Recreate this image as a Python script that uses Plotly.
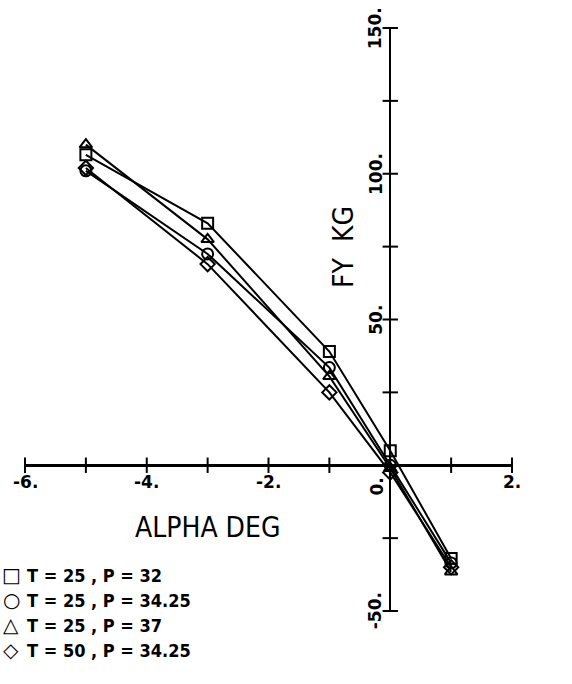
import plotly.graph_objects as go

# ---- data ----
alpha_deg = [-5, -3, -1, 0, 1]
fy_t25_p32 = [106.5, 83, 39, 5, -32]
fy_t25_p3425 = [101, 72.5, 33.5, 0, -33.5]
fy_t25_p37 = [110, 77.5, 30.5, -1, -36.5]
fy_t50_p3425 = [102, 69, 25, -2.5, -35]

series_labels = ["T = 25 , P = 32", "T = 25 , P = 34.25", "T = 25 , P = 37", "T = 50 , P = 34.25"]
series_values = [fy_t25_p32, fy_t25_p3425, fy_t25_p37, fy_t50_p3425]
series_symbols = ["square-open", "circle-open", "triangle-up-open", "diamond-open"]
legend_glyphs = ["□", "○", "△", "◇"]

x_ticks = [-6, -5, -4, -3, -2, -1, 0, 1, 2]
x_tick_labels = {-6: "-6.", -4: "-4.", -2: "-2.", 2: "2."}
y_ticks = [-50, -25, 0, 25, 50, 75, 100, 125, 150]
y_tick_labels = {150: "150.", 100: "100.", 50: "50.", -50: "-50."}

TXT = "DejaVu Sans Condensed, Liberation Sans Narrow, DejaVu Sans"
W, H = 572, 684
L, T, R, B = 25, 28, 60, 73
PW, PH = W - L - R, H - T - B

fig = go.Figure()

for vals, sym, lab in zip(series_values, series_symbols, series_labels):
    fig.add_trace(go.Scatter(
        x=alpha_deg, y=vals, mode="lines+markers", name=lab,
        line=dict(color="black", width=2),
        marker=dict(symbol=sym, size=11, color="black", line=dict(width=2, color="black")),
        showlegend=False, cliponaxis=False,
    ))

# tick marks on the crossing axes
fig.add_trace(go.Scatter(
    x=x_ticks, y=[0] * len(x_ticks), mode="markers", showlegend=False, cliponaxis=False,
    marker=dict(symbol="line-ns", size=11, line=dict(width=2, color="black")),
))
fig.add_trace(go.Scatter(
    x=[0] * len(y_ticks), y=y_ticks, mode="markers", showlegend=False, cliponaxis=False,
    marker=dict(symbol="line-ew", size=11, line=dict(width=2, color="black")),
))

ann = []
for xv, lab in x_tick_labels.items():
    ann.append(dict(x=xv, y=0, xref="x", yref="y", text=lab, showarrow=False,
                    xanchor="center", yanchor="top", yshift=-5,
                    font=dict(family="DejaVu Sans", size=17, color="black", weight="bold")))
ann.append(dict(x=0, y=0, xref="x", yref="y", text="0.", showarrow=False, textangle=-90,
                xanchor="center", yanchor="middle", xshift=-13, yshift=-21,
                font=dict(family="DejaVu Sans", size=17, color="black", weight="bold")))
for yv, lab in y_tick_labels.items():
    ann.append(dict(x=0, y=yv, xref="x", yref="y", text=lab, showarrow=False, textangle=-90,
                    xanchor="center", yanchor="middle", xshift=-15,
                    font=dict(family="DejaVu Sans", size=17, color="black", weight="bold")))
ann.append(dict(x=-3, y=0, xref="x", yref="y", text="ALPHA DEG", showarrow=False,
                xanchor="center", yanchor="middle", yshift=-62,
                font=dict(family=TXT, size=28, color="black")))
ann.append(dict(x=0, y=75, xref="x", yref="y", text="FY  KG", showarrow=False, textangle=-90,
                xanchor="center", yanchor="middle", xshift=-47,
                font=dict(family=TXT, size=28, color="black")))

# legend drawn as text rows (symbol + label) in the lower-left corner
row_px = [575, 600, 625, 650]
for glyph, lab, py in zip(legend_glyphs, series_labels, row_px):
    yp = (H - B - py) / PH
    ann.append(dict(x=(11 - L) / PW, y=yp, xref="paper", yref="paper", text=glyph, showarrow=False,
                    xanchor="center", yanchor="middle",
                    font=dict(family="DejaVu Sans", size=20, color="black")))
    ann.append(dict(x=0, y=yp, xref="paper", yref="paper", text=lab, showarrow=False,
                    xanchor="left", yanchor="middle",
                    font=dict(family=TXT, size=18, color="black", weight="bold")))

fig.update_layout(
    width=W, height=H,
    margin=dict(l=L, r=R, t=T, b=B),
    paper_bgcolor="white", plot_bgcolor="white",
    xaxis=dict(range=[-6, 2], showgrid=False, showticklabels=False, ticks="", automargin=False,
               zeroline=True, zerolinecolor="black", zerolinewidth=1.5, showline=False),
    yaxis=dict(range=[-50, 150], showgrid=False, showticklabels=False, ticks="", automargin=False,
               zeroline=True, zerolinecolor="black", zerolinewidth=3, showline=False),
    annotations=ann,
    showlegend=False,
)

fig.write_html("out.html", config={"displayModeBar": False},
               post_script="document.body.style.margin='0';document.body.style.overflow='hidden';")
